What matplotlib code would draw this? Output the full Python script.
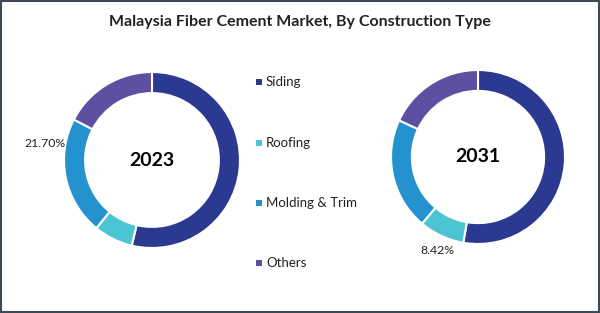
import matplotlib
matplotlib.use("Agg")
import matplotlib.pyplot as plt
from matplotlib.patches import Rectangle

plt.rcParams['font.family'] = ['Lato', 'DejaVu Sans']

categories = ['Siding', 'Roofing', 'Molding & Trim', 'Others']
share_2023 = [53.7, 7.2, 21.7, 17.4]
share_2031 = [52.7, 8.42, 20.8, 18.08]
colors = ['#2B3990', '#4CC4D2', '#2592D0', '#5E4FA2']

W, H = 600, 313
fig = plt.figure(figsize=(W / 100, H / 100), dpi=100)

def donut(cx, cy, r, values, year, label_idx, label_xy):
    ax = fig.add_axes([(cx - r) / W, (H - cy - r) / H, 2 * r / W, 2 * r / H])
    wedges, _ = ax.pie(values, colors=colors, startangle=90, counterclock=False,
                       radius=1, wedgeprops=dict(width=0.24, edgecolor='white', linewidth=1.5))
    ax.set_xlim(-1, 1)
    ax.set_ylim(-1, 1)
    ax.set_aspect('equal')
    ax.axis('off')
    ax.text(0, 0, year, ha='center', va='center', fontsize=14, fontweight='bold', color='black')
    ax.text(label_xy[0], label_xy[1], '%.2f%%' % values[label_idx], ha='center', va='center',
            fontsize=8.8, color='#222222', clip_on=False)
    return wedges

donut(152, 160, 88, share_2023, '2023', 2, (-1.22, 0.19))
donut(478, 157, 87, share_2031, '2031', 1, (-0.47, -1.07))

fig.text(0.5, 1 - 22 / H, 'Malaysia Fiber Cement Market, By Construction Type',
         ha='center', va='center', fontsize=11.5, fontweight='bold', color='#222222')

# legend
leg_y = [82, 143, 203, 263]
for name, col, y in zip(categories, colors, leg_y):
    fig.patches.append(Rectangle(((256) / W, (H - y - 3) / H), 6 / W, 6 / H,
                                 transform=fig.transFigure, facecolor=col, edgecolor='none'))
    fig.text(266 / W, 1 - y / H, name, ha='left', va='center', fontsize=9.5, color='#222222')

# outer frame
fig.patches.append(Rectangle((0.001, 0.002), 0.997, 0.995, transform=fig.transFigure,
                             fill=False, edgecolor='#3B4A55', linewidth=1.5))

fig.savefig('out.png', dpi=100)
